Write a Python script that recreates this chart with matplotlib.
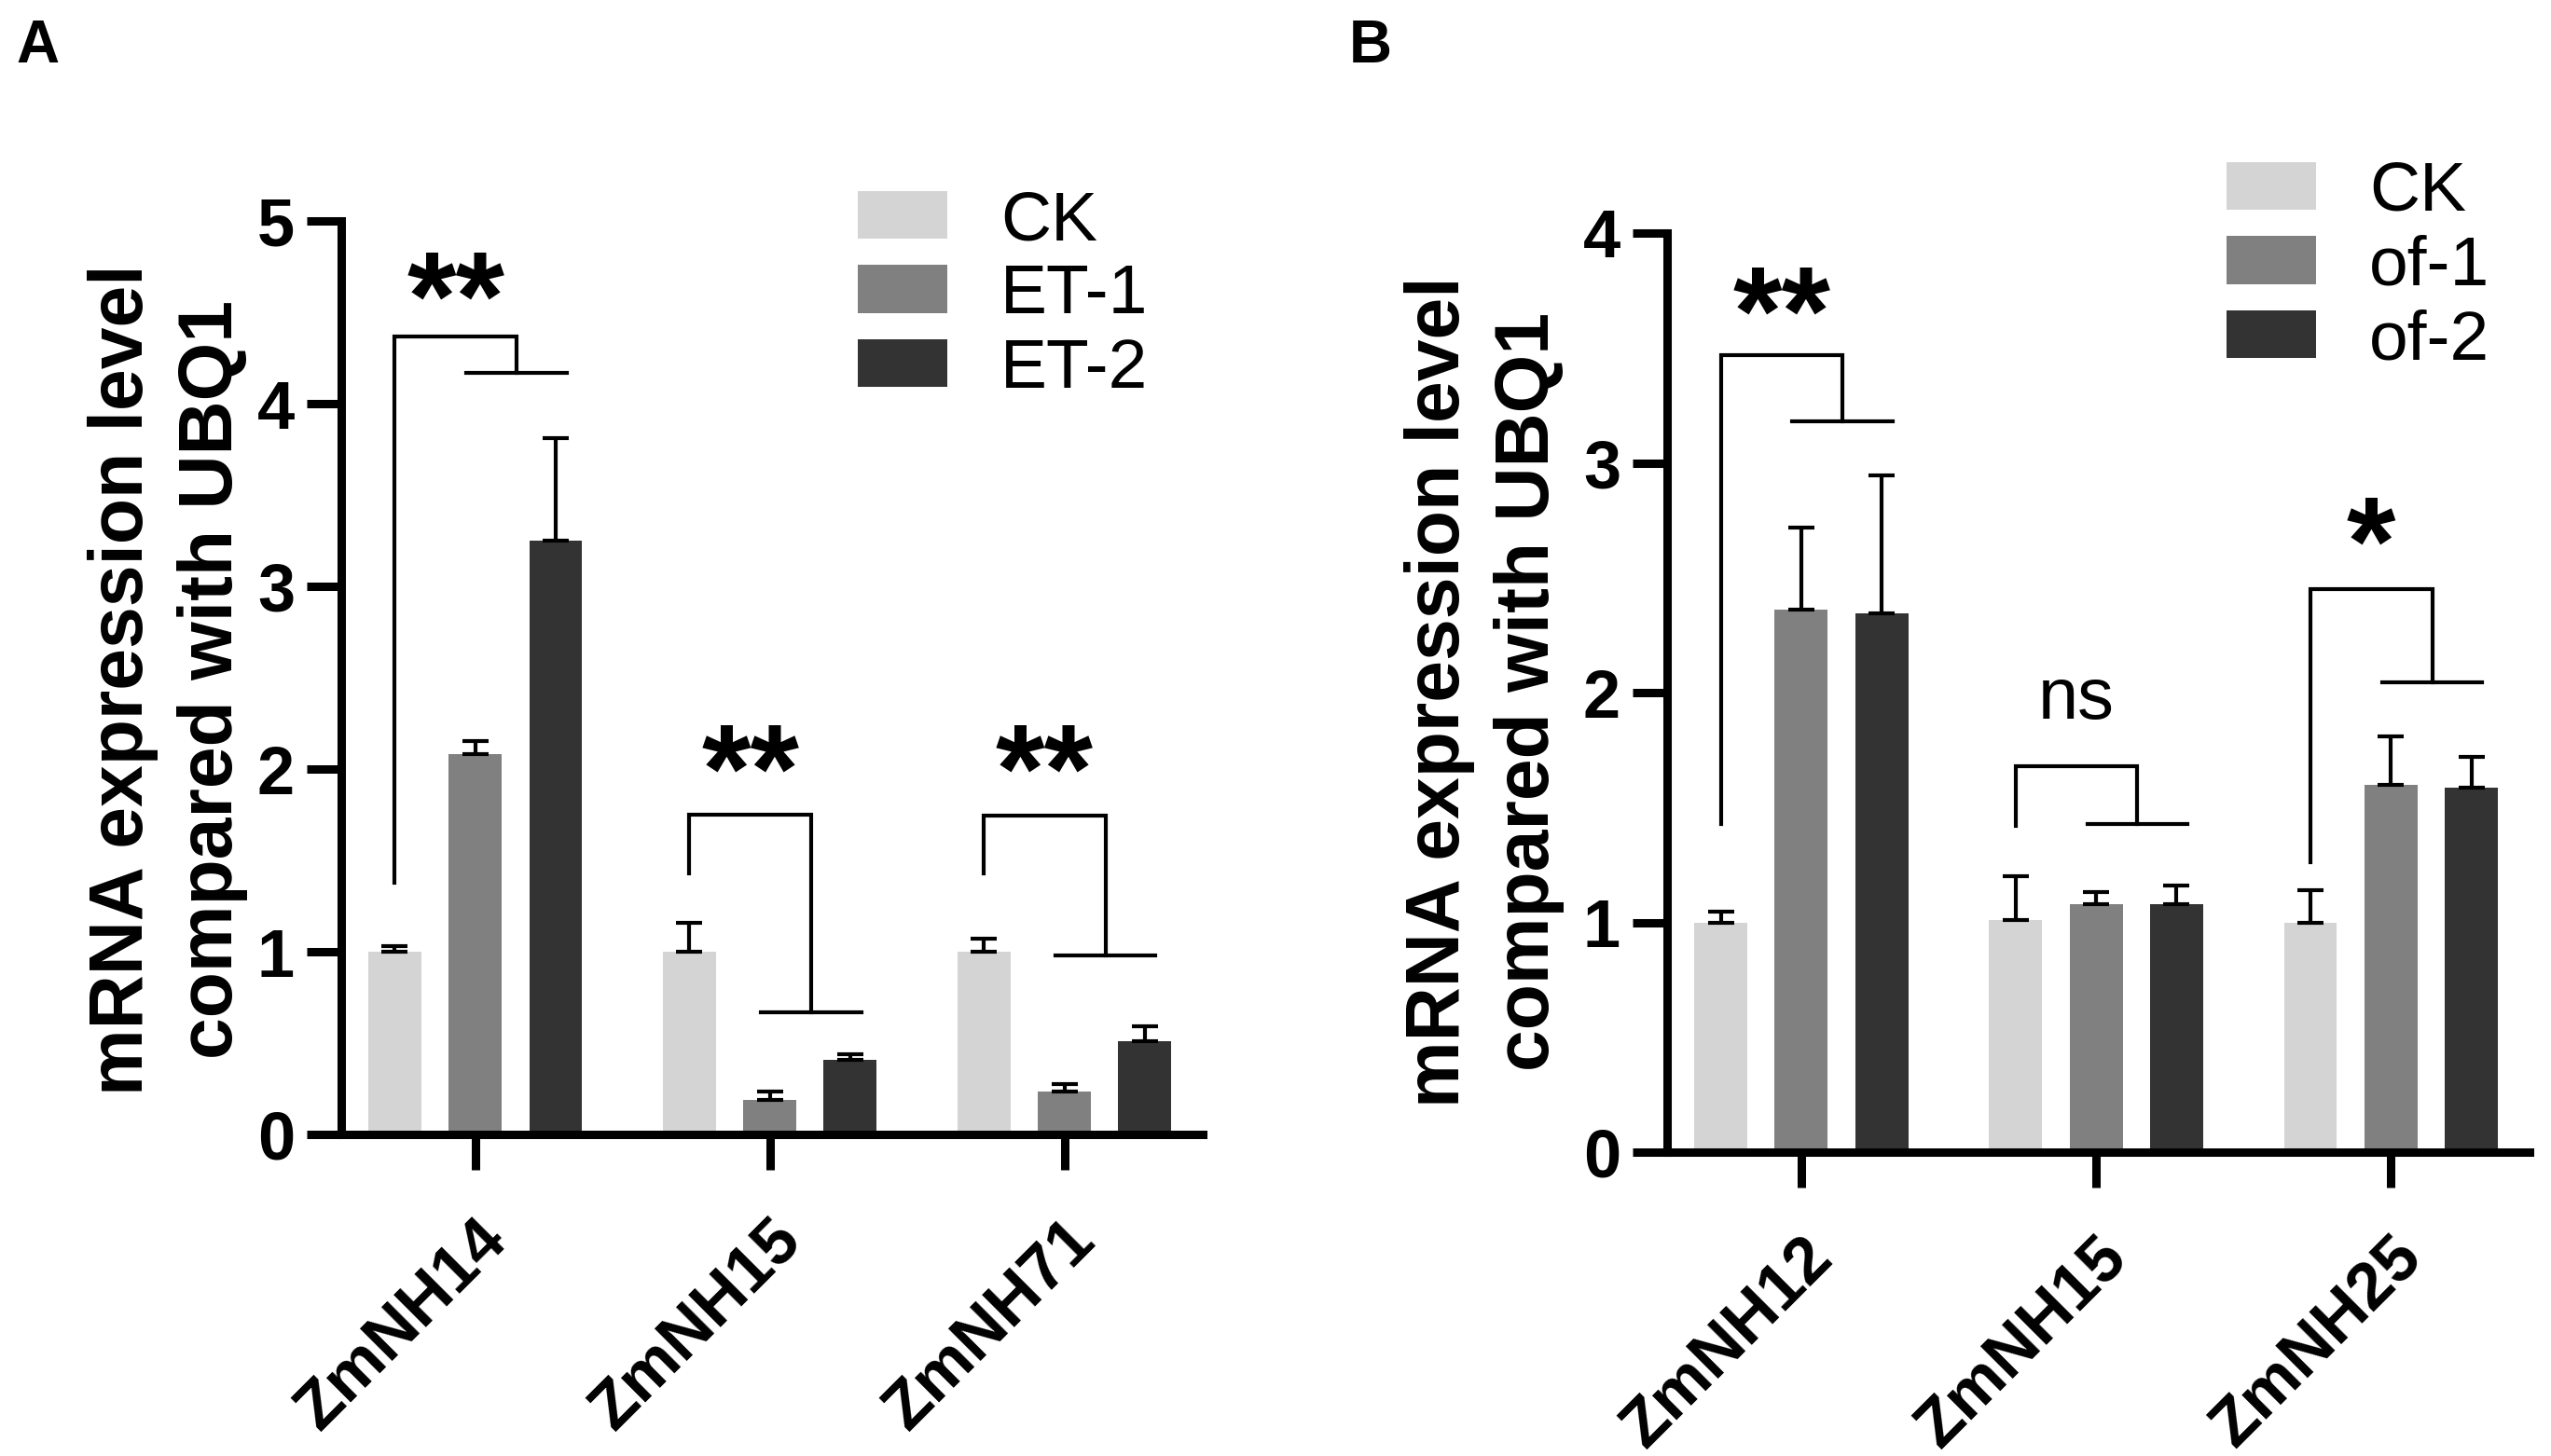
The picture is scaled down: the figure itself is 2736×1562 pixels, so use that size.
import numpy as np
import matplotlib
matplotlib.use("Agg")
import matplotlib.pyplot as plt

plt.rcParams['font.family'] = ['Liberation Sans', 'DejaVu Sans']

# ---- data ----
genes_a = ['ZmNH14', 'ZmNH15', 'ZmNH71']
groups_a = ['CK', 'ET-1', 'ET-2']
mean_a = [[1.00, 1.00, 1.00],
          [2.08, 0.19, 0.235],
          [3.25, 0.41, 0.51]]
err_a = [[0.03, 0.16, 0.07],
         [0.075, 0.045, 0.04],
         [0.56, 0.03, 0.08]]
# bracket: top, left leg bottom, right lower line, text y, text
brk_top_a = [4.365, 1.75, 1.745]
brk_left_a = [1.38, 1.43, 1.43]
brk_right_a = [4.17, 0.67, 0.98]
sig_y_a = [4.68, 2.09, 2.09]
sig_a = ['**', '**', '**']

genes_b = ['ZmNH12', 'ZmNH15', 'ZmNH25']
groups_b = ['CK', 'of-1', 'of-2']
mean_b = [[1.00, 1.01, 1.00],
          [2.36, 1.08, 1.60],
          [2.345, 1.08, 1.585]]
err_b = [[0.045, 0.19, 0.14],
         [0.36, 0.05, 0.21],
         [0.60, 0.08, 0.135]]
brk_top_b = [3.47, 1.68, 2.45]
brk_left_b = [1.43, 1.42, 1.26]
brk_right_b = [3.18, 1.43, 2.045]
sig_y_b = [3.73, 1.97, 2.73]
sig_b = ['**', 'ns', '*']

colors = ['#d4d4d4', '#808080', '#333333']
W = 2736
H = 1562


def panel(ax, genes, groups, means, errs, top, left, right, sig_y, sig, ymax):
    x = np.arange(len(genes))
    off = 0.273
    for i in range(3):
        ax.bar(x + (i - 1) * off, means[i], width=0.18, color=colors[i],
               edgecolor='none', label=groups[i], zorder=1)
        ax.errorbar(x + (i - 1) * off, means[i],
                    yerr=[np.zeros(len(genes)), errs[i]], fmt='none',
                    ecolor='black', elinewidth=3, capsize=10, capthick=3,
                    zorder=2)
    for k in range(len(genes)):
        xl = x[k] - off
        xr = x[k] + 0.14
        ax.plot([xl, xl, xr, xr], [left[k], top[k], top[k], right[k]],
                color='black', lw=3, solid_joinstyle='miter', zorder=3)
        ax.plot([x[k] - 0.03, x[k] + 0.31], [right[k], right[k]],
                color='black', lw=3, zorder=3)
        if sig[k] == 'ns':
            ax.text((xl + xr) / 2, sig_y[k], sig[k], ha='center', va='center',
                    fontsize=56)
        else:
            fs = 97
            ax.annotate(sig[k], xy=((xl + xr) / 2, sig_y[k]),
                        xytext=(0, -0.47 * fs), textcoords='offset points',
                        ha='center', va='baseline', fontsize=fs,
                        fontweight='bold')
    ax.set_xlim(-0.455, 2.47)
    ax.set_ylim(0, ymax)
    ax.set_yticks(range(ymax + 1))
    ax.set_xticks(x)
    ax.set_xticklabels(genes, rotation=45, ha='right', va='top',
                       rotation_mode='anchor', fontsize=51, fontweight='bold')
    for lab in ax.get_yticklabels():
        lab.set_fontweight('bold')
    ax.tick_params(axis='y', labelsize=52, length=27, width=6.5, pad=9)
    ax.tick_params(axis='x', length=27, width=6.5, pad=30)
    for s in ['top', 'right']:
        ax.spines[s].set_visible(False)
    for s in ['left', 'bottom']:
        ax.spines[s].set_linewidth(6.5)


fig = plt.figure(figsize=(W / 100, H / 100), dpi=100)

ax_a = fig.add_axes([366 / W, 1 - 1217 / H, (1290 - 366) / W, (1217 - 237) / H])
panel(ax_a, genes_a, groups_a, mean_a, err_a, brk_top_a, brk_left_a,
      brk_right_a, sig_y_a, sig_a, 5)

ax_b = fig.add_axes([1788 / W, 1 - 1236 / H, (2713 - 1788) / W, (1236 - 250) / H])
panel(ax_b, genes_b, groups_b, mean_b, err_b, brk_top_b, brk_left_b,
      brk_right_b, sig_y_b, sig_b, 4)

ylab = 'mRNA expression level\ncompared with UBQ1'
fig.text(180 / W, 1 - 729 / H, ylab, rotation=90, ha='center', va='center',
         fontsize=58, fontweight='bold', linespacing=1.35, multialignment='center')
fig.text(1592 / W, 1 - 742 / H, ylab, rotation=90, ha='center', va='center',
         fontsize=58, fontweight='bold', linespacing=1.35, multialignment='center')

for ax, lx, ly in [(ax_a, 920, 203), (ax_b, 2388, 172)]:
    ax.legend(loc='upper left', bbox_to_anchor=(lx / W, 1 - ly / H),
              bbox_transform=fig.transFigure, frameon=False, fontsize=54,
              handlelength=1.28, handleheight=0.68, handletextpad=0.76,
              labelspacing=0.14, borderpad=0, borderaxespad=0)

fig.text(17 / W, 1 - 20 / H, 'A', ha='left', va='top', fontsize=46,
         fontweight='bold')
fig.text(1447 / W, 1 - 20 / H, 'B', ha='left', va='top', fontsize=46,
         fontweight='bold')

fig.savefig('out.png', dpi=100)
